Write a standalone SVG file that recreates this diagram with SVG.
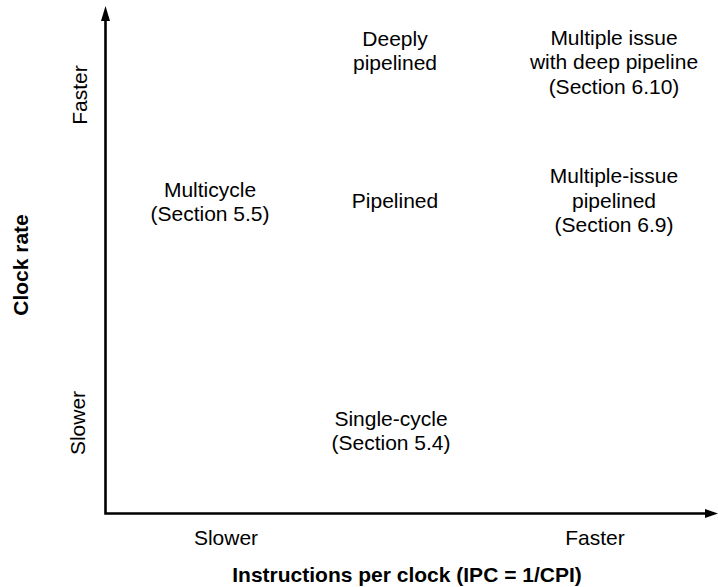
<svg xmlns="http://www.w3.org/2000/svg" width="718" height="587" viewBox="0 0 718 587">
<style>
text{font-family:"Liberation Sans",Arial,Helvetica,sans-serif;font-size:21px;fill:#000;text-anchor:middle}
.b{font-weight:bold}
.ax{fill:none;stroke:#000;stroke-width:2.6}
</style>
<rect width="718" height="587" fill="#fff"/>
<g id="connectors">
<path class="ax" d="M105.5,18 V513.5 H708"/>
<path d="M105.5,6 L110,21 L101,21 Z" fill="#000"/>
<path d="M718,513.5 L705,509 L705,518 Z" fill="#000"/>
</g>
<g id="axis-labels">
<text transform="translate(87,95) rotate(-90)">Faster</text>
<text class="b" transform="translate(28,265) rotate(-90)">Clock rate</text>
<text transform="translate(85,423) rotate(-90)">Slower</text>
<text x="226" y="545">Slower</text>
<text x="595" y="545">Faster</text>
<text class="b" x="407" y="582">Instructions per clock (IPC = 1/CPI)</text>
</g>
<g id="deeply-pipelined">
<text x="395" y="46">Deeply</text>
<text x="395" y="70">pipelined</text>
</g>
<g id="multiple-issue-deep">
<text x="614" y="45">Multiple issue</text>
<text x="614" y="69">with deep pipeline</text>
<text x="614" y="94">(Section 6.10)</text>
</g>
<g id="multicycle">
<text x="210" y="197">Multicycle</text>
<text x="210" y="221">(Section 5.5)</text>
</g>
<g id="pipelined">
<text x="395" y="208">Pipelined</text>
</g>
<g id="multiple-issue-pipelined">
<text x="614" y="183">Multiple-issue</text>
<text x="614" y="208">pipelined</text>
<text x="614" y="232">(Section 6.9)</text>
</g>
<g id="single-cycle">
<text x="391" y="426">Single-cycle</text>
<text x="391" y="450">(Section 5.4)</text>
</g>
</svg>
